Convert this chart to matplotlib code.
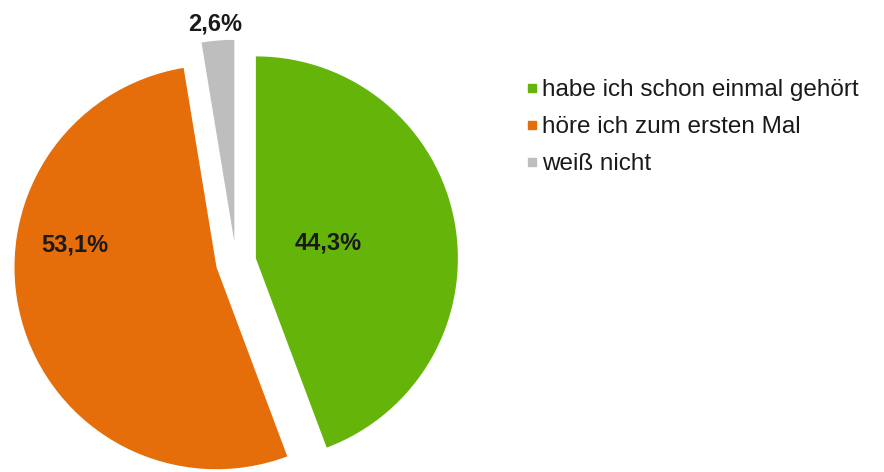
import matplotlib
matplotlib.use("Agg")
import matplotlib.pyplot as plt
from matplotlib.lines import Line2D

# data
labels = ["habe ich schon einmal gehört", "höre ich zum ersten Mal", "weiß nicht"]
values = [44.3, 53.1, 2.6]
pct_text = ["44,3%", "53,1%", "2,6%"]
colors = ["#64B40A", "#E66E0A", "#BEBEBE"]

# label positions (data units, pie radius = 1)
label_pos = [(0.455, 0.094), (-0.797, 0.084), (-0.104, 1.18)]

plt.rcParams['font.family'] = ['Liberation Sans', 'DejaVu Sans']

W, H = 884, 472
fig = plt.figure(figsize=(W / 100, H / 100), dpi=100)

# pie centre at (236, 262) px from top-left, radius 202 px
R = 202.0
cx, cy = 236.0, H - 262.0
half = 1.2 * R
ax = fig.add_axes([(cx - half) / W, (cy - half) / H, 2 * half / W, 2 * half / H])

ax.pie(values, colors=colors, startangle=90, counterclock=False,
       explode=[0.1] * len(values), radius=1.0,
       wedgeprops=dict(linewidth=0))
# pie() resets the limits, so set them afterwards
ax.set_xlim(-1.2, 1.2)
ax.set_ylim(-1.2, 1.2)
ax.axis("off")

for txt, (x, y) in zip(pct_text, label_pos):
    ax.text(x, y, txt, ha="center", va="center", fontsize=17,
            fontweight="bold", color="#1a1a1a", clip_on=False)

handles = [Line2D([0], [0], marker="s", linestyle="none", markersize=6,
                  markerfacecolor=c, markeredgecolor=c) for c in colors]
fig.legend(handles, labels, loc="upper left",
           bbox_to_anchor=(526 / W, 1 - 79 / H), frameon=False,
           fontsize=17.5, handlelength=0.5, handletextpad=0.15,
           labelspacing=0.62, borderpad=0, borderaxespad=0,
           labelcolor="#1a1a1a")

fig.savefig("out.png", dpi=100)
